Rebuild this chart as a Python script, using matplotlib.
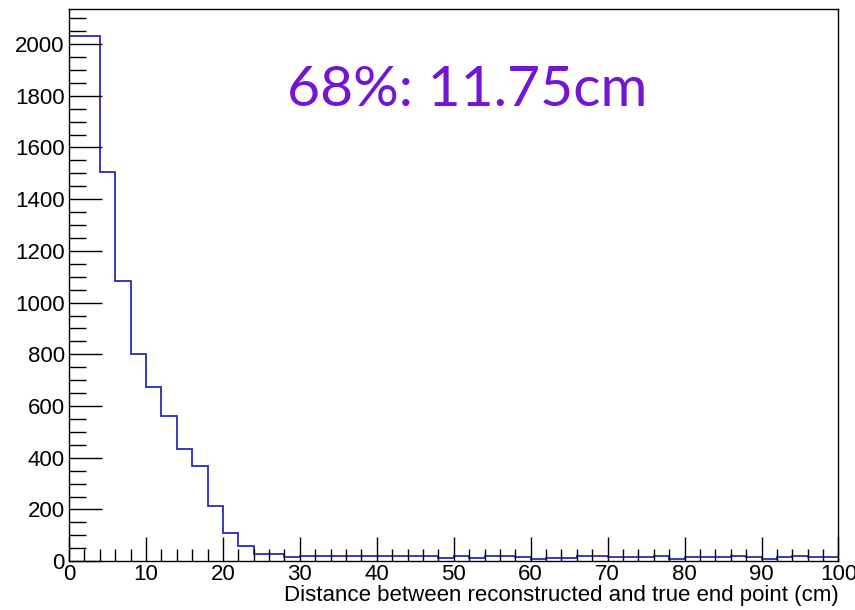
import numpy as np
import matplotlib.pyplot as plt
from matplotlib.ticker import MultipleLocator

# histogram contents, 2 cm bins from 0 to 100
bin_edges = np.arange(0, 102, 2)
counts = [2030, 2030, 1505, 1085, 800, 675, 560, 435, 370, 215,
          110, 60, 28, 28, 18, 22, 22, 22, 22, 22,
          20, 22, 22, 22, 13, 19, 14, 19, 22, 18,
          8, 13, 13, 19, 19, 15, 15, 15, 19, 9,
          15, 15, 15, 19, 15, 9, 15, 19, 15, 15]
x_title = "Distance between reconstructed and true end point (cm)"
note = "68%: 11.75cm"

plt.rcParams['font.family'] = ['Liberation Sans', 'DejaVu Sans']

fig = plt.figure(figsize=(8.55, 6.1), dpi=100)
ax = fig.add_axes([0.0807, 0.080, 0.9, 0.905])

ax.stairs(counts, bin_edges, baseline=None, color='#2b2bb8', linewidth=1.3)

ax.set_xlim(0, 100)
ax.set_ylim(0, 2135)

ax.xaxis.set_major_locator(MultipleLocator(10))
ax.xaxis.set_minor_locator(MultipleLocator(2))
ax.yaxis.set_major_locator(MultipleLocator(200))
ax.yaxis.set_minor_locator(MultipleLocator(50))

ax.tick_params(axis='x', which='major', direction='in', length=17, width=1, labelsize=16, pad=2)
ax.tick_params(axis='x', which='minor', direction='in', length=9, width=1)
ax.tick_params(axis='y', which='major', direction='in', length=24, width=1, labelsize=16, pad=3)
ax.tick_params(axis='y', which='minor', direction='in', length=12, width=1)

for s in ax.spines.values():
    s.set_linewidth(1.0)

ax.set_xlabel(x_title, fontsize=16, loc='right', labelpad=0)

fig.text(0.546, 0.851, note, fontsize=41, color='#7414d4',
         family=['Lato', 'DejaVu Sans'], ha='center', va='center')

fig.savefig('out.png', dpi=100)
